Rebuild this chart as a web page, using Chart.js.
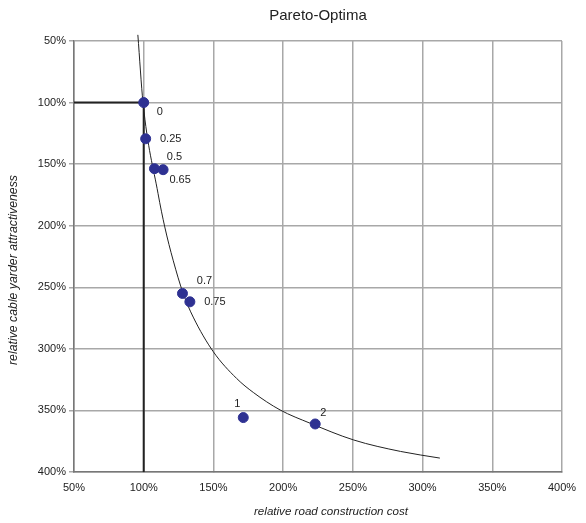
<!DOCTYPE html>
<html lang="en">
<head>
<meta charset="UTF-8" />
<title>Pareto-Optima</title>
<script src="https://cdn.jsdelivr.net/npm/chart.js"></script>
<style>
html, body { margin: 0; padding: 0; background: #fff; }
#wrap { width: 586px; height: 523px; }
</style>
</head>
<body>
<div id="wrap"><canvas id="c" width="586" height="523"></canvas></div>
<script>
// pareto points (x = road cost %, y = cable yarder attractiveness %)
const pointLabels = ['0', '0.25', '0.5', '0.65', '0.7', '0.75', '1', '2'];
const pointX = [100, 101.4, 107.7, 113.9, 127.8, 133.1, 171.4, 223];
const pointY = [100, 129.4, 153.7, 154.5, 255, 261.8, 355.8, 361];

// fitted curve
const curveX = [95.8, 99.5, 110.3, 115.1, 121.1, 128.3, 135.5, 149.9, 166.7, 178.6, 197.8, 219.4, 250.6, 284.2, 312.4];
const curveY = [45, 100, 174, 201, 228, 255, 274.2, 302.3, 324.1, 335.4, 349.6, 360.4, 374, 383.3, 388.7];

// reference lines at 100%
const refX = [50, 100, 100];
const refY = [100, 100, 400];

const xTicks = [50, 100, 150, 200, 250, 300, 350, 400];
const yTicks = [50, 100, 150, 200, 250, 300, 350, 400];

const FONT = "'Liberation Sans', Arial, sans-serif";

// label offsets (px, relative to point centre)
const labelOffsets = {
  '0': [16, 9], '0.25': [25, 0], '0.5': [20, -12], '0.65': [17, 10],
  '0.7': [22, -12], '0.75': [25, 0], '1': [-6, -14], '2': [8, -11]
};

const labelPlugin = {
  id: 'pointLabels',
  afterDatasetsDraw(chart) {
    const ctx = chart.ctx;
    const meta = chart.getDatasetMeta(2);
    const a = chart.chartArea;
    ctx.save();
    ctx.font = '11px ' + FONT;
    ctx.fillStyle = '#222';
    ctx.textAlign = 'center';
    ctx.textBaseline = 'middle';
    meta.data.forEach((pt, i) => {
      const o = labelOffsets[pointLabels[i]];
      ctx.fillText(pointLabels[i], pt.x + o[0], pt.y + o[1]);
    });
    // axis titles
    ctx.font = 'italic 11.6px ' + FONT;
    ctx.fillText('relative road construction cost', (a.left + a.right) / 2 + 13, 512);
    ctx.translate(14, 270);
    ctx.rotate(-Math.PI / 2);
    ctx.font = 'italic 12.3px ' + FONT;
    ctx.fillText('relative cable yarder attractiveness', 0, 0);
    ctx.restore();
  }
};

new Chart(document.getElementById('c'), {
  type: 'scatter',
  data: {
    datasets: [
      {
        label: 'ref',
        data: refX.map((x, i) => ({ x, y: refY[i] })),
        showLine: true, borderColor: '#222', borderWidth: 2,
        pointRadius: 0, tension: 0, order: 3
      },
      {
        label: 'curve',
        data: curveX.map((x, i) => ({ x, y: curveY[i] })),
        showLine: true, borderColor: '#222', borderWidth: 1,
        pointRadius: 0, cubicInterpolationMode: 'monotone', clip: false, order: 2
      },
      {
        label: 'points',
        data: pointX.map((x, i) => ({ x, y: pointY[i] })),
        backgroundColor: '#2e3192', borderColor: '#2e3192',
        pointRadius: 5, pointHoverRadius: 5, order: 1
      }
    ]
  },
  options: {
    responsive: false,
    animation: false,
    layout: { padding: { right: 24 } },
    plugins: {
      legend: { display: false },
      tooltip: { enabled: false },
      title: {
        display: true, text: 'Pareto-Optima', color: '#222', fullSize: false,
        font: { family: FONT, size: 15, weight: 'normal' },
        padding: { top: 7, bottom: 16 }
      }
    },
    scales: {
      x: {
        type: 'linear', min: 50, max: 400,
        afterFit: s => { s.height = 51; },
        afterBuildTicks: s => { s.ticks = xTicks.map(v => ({ value: v })); },
        grid: { color: '#a8a8a8', lineWidth: 1.5, tickLength: 0 },
        border: { color: '#777', width: 1.5 },
        ticks: { color: '#222', padding: 9, maxRotation: 0, font: { family: FONT, size: 11 }, callback: v => v + '%' }
      },
      y: {
        type: 'linear', min: 50, max: 400, reverse: true,
        afterFit: s => { s.width = 74; },
        afterBuildTicks: s => { s.ticks = yTicks.map(v => ({ value: v })); },
        grid: { color: '#a8a8a8', lineWidth: 1.5, tickLength: 5 },
        border: { color: '#777', width: 1.5 },
        ticks: { color: '#222', padding: 3, font: { family: FONT, size: 11 }, callback: v => v + '%' }
      }
    }
  },
  plugins: [labelPlugin]
});
</script>
</body>
</html>
